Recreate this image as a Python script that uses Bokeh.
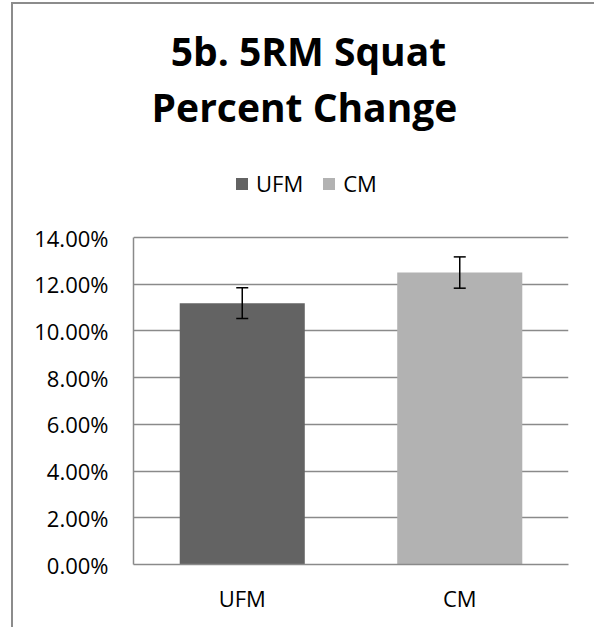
from bokeh.plotting import figure
from bokeh.models import (ColumnDataSource, FactorRange, Range1d, Whisker, TeeHead,
                          NumeralTickFormatter, FixedTicker, Label, InlineStyleSheet)
from bokeh.embed import file_html
from bokeh.resources import INLINE

# ---- data ----
categories = ["UFM", "CM"]
values = [0.1119, 0.1250]
errors = [0.0066, 0.0067]
bar_colors = ["#636363", "#b2b2b2"]
y_ticks = [0.00, 0.02, 0.04, 0.06, 0.08, 0.10, 0.12, 0.14]
title_lines = ["5b. 5RM Squat", "Percent Change"]

upper = [v + e for v, e in zip(values, errors)]
lower = [v - e for v, e in zip(values, errors)]
src = ColumnDataSource(dict(cat=categories, val=values, upper=upper, lower=lower,
                            color=bar_colors))

FONT = "Open Sans"
GRID = "#8a8a8a"

W, H = 600, 611
FRAME_H = 560                       # frame spans from canvas top to the 0% line
PX_PER_UNIT = 327.0 / y_ticks[-1]   # 327 px between 0% and 14%
Y_TOP = FRAME_H / PX_PER_UNIT

p = figure(x_range=FactorRange(factors=categories), y_range=Range1d(0, Y_TOP),
           width=W, height=H, output_backend="svg", toolbar_location=None,
           min_border_left=120, min_border_right=W - 555, min_border_top=0,
           min_border_bottom=H - FRAME_H)
p.styles = {"margin-left": "13px", "margin-top": "4px"}
p.stylesheets = [InlineStyleSheet(css=(
    ":host { overflow: visible; }"
    ":host::before { content: ''; position: absolute; left: -2px; top: -2px;"
    " width: 2px; height: 625px; background: #8c8c8c; }"
    ":host::after { content: ''; position: absolute; left: -2px; top: -2px;"
    " width: 583px; height: 2px; background: #8c8c8c; }"))]
p.outline_line_color = None
p.background_fill_color = "white"
p.border_fill_color = "white"

p.vbar(x="cat", top="val", width=0.575, source=src, fill_color="color",
       line_color=None, legend_field="cat")

w = Whisker(base="cat", upper="upper", lower="lower", source=src,
            line_color="black", line_width=1.5, level="overlay",
            upper_head=TeeHead(size=12, line_color="black", line_width=1.5),
            lower_head=TeeHead(size=12, line_color="black", line_width=1.5))
p.add_layout(w)

# axes
p.yaxis.ticker = FixedTicker(ticks=y_ticks)
p.yaxis.bounds = (y_ticks[0], y_ticks[-1])
p.yaxis.formatter = NumeralTickFormatter(format="0.00%")
p.yaxis.major_label_text_font = FONT
p.yaxis.major_label_text_font_size = "22px"
p.yaxis.major_label_text_color = "black"
p.yaxis.major_tick_line_color = None
p.yaxis.minor_tick_line_color = None
p.yaxis.axis_line_color = GRID
p.yaxis.axis_line_width = 1.5
p.yaxis.major_label_standoff = 19

p.xaxis.major_label_text_font = FONT
p.xaxis.major_label_text_font_size = "22px"
p.xaxis.major_label_text_color = "black"
p.xaxis.major_tick_line_color = None
p.xaxis.axis_line_color = GRID
p.xaxis.axis_line_width = 1.5
p.xaxis.major_label_standoff = 12

p.xgrid.grid_line_color = None
p.ygrid.ticker = FixedTicker(ticks=y_ticks)
p.ygrid.grid_line_color = GRID
p.ygrid.grid_line_width = 1.5

# title lines, placed in data units (page px -> data via the frame scale)
for txt, page_x, page_y in zip(title_lines, [308, 304], [49.6, 105.6]):
    p.add_layout(Label(x=(page_x - 133) / 217.5, y=(564 - page_y) / PX_PER_UNIT,
                       text=txt, text_align="center", text_baseline="alphabetic",
                       text_font=FONT, text_font_style="bold",
                       text_font_size="39px", text_color="black"))

lg = p.legend[0]
lg.orientation = "horizontal"
lg.location = (101, 366)
lg.padding = 0
lg.margin = 0
lg.border_line_color = None
lg.background_fill_alpha = 0
lg.glyph_width = 15
lg.glyph_height = 15
lg.label_standoff = 7
lg.spacing = 18
lg.label_text_font = FONT
lg.label_text_font_size = "22px"
lg.label_text_color = "black"

open("out.html", "w").write(file_html(p, INLINE))
